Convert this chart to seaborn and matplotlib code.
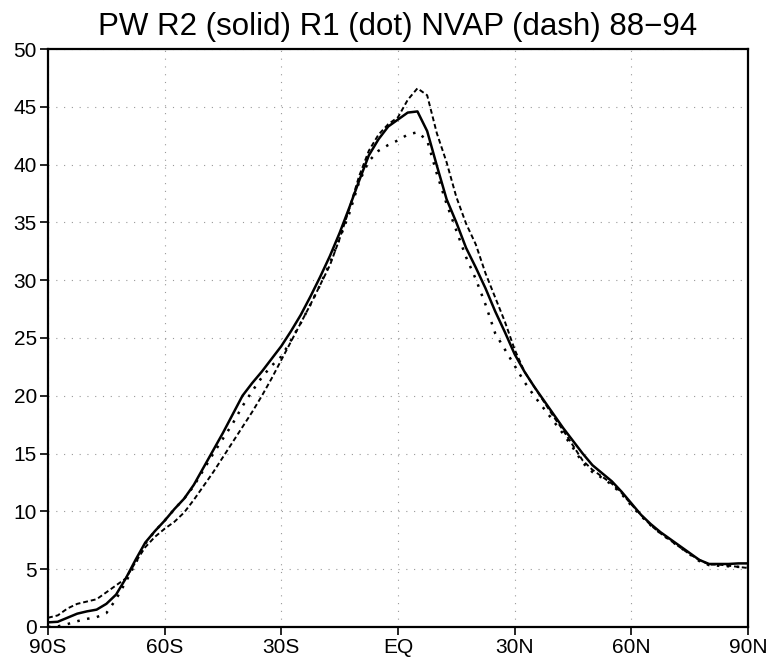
import numpy as np
import pandas as pd
import seaborn as sns
import matplotlib.pyplot as plt

lat = np.arange(-90, 90.1, 2.5)

# R2 (solid)
r2 = [0.4, 0.45, 0.8, 1.15, 1.35, 1.5, 2.0, 2.8, 4.2, 5.8,
      7.3, 8.3, 9.2, 10.2, 11.1, 12.3, 13.8, 15.3, 16.8, 18.4,
      20.0, 21.1, 22.1, 23.2, 24.3, 25.6, 27.0, 28.6, 30.3, 32.1,
      34.1, 36.3, 38.6, 40.8, 42.2, 43.3, 43.9, 44.5, 44.6, 42.9,
      39.9, 37.0, 35.0, 32.8, 31.1, 29.3, 27.3, 25.5, 23.6, 22.1,
      20.8, 19.6, 18.4, 17.2, 16.1, 15.0, 14.0, 13.3, 12.6, 11.7,
      10.7, 9.7, 8.9, 8.2, 7.6, 7.0, 6.4, 5.8, 5.45, 5.45,
      5.45, 5.5, 5.5]

# R1 (dot)
r1 = [0.0, 0.05, 0.25, 0.5, 0.7, 0.85, 1.2, 2.4, 3.9, 5.5,
      7.2, 8.3, 9.2, 10.2, 11.1, 12.2, 13.6, 15.0, 16.3, 17.6,
      19.1, 20.4, 21.6, 22.6, 23.4, 24.8, 26.3, 27.9, 29.6, 31.5,
      33.6, 35.8, 38.5, 40.3, 41.2, 41.7, 42.1, 42.6, 42.8, 42.1,
      39.2, 36.6, 34.3, 32.0, 30.1, 27.9, 25.4, 24.0, 22.6, 21.2,
      20.0, 18.9, 17.8, 16.7, 15.5, 14.2, 13.4, 12.9, 12.3, 11.5,
      10.5, 9.6, 8.8, 8.1, 7.5, 6.9, 6.3, 5.7, 5.35, 5.3,
      5.25, 5.2, 5.2]

# NVAP (dash)
nvap = [0.8, 1.0, 1.6, 2.0, 2.2, 2.4, 3.0, 3.6, 4.2, 5.6,
        6.9, 7.8, 8.5, 9.1, 9.9, 11.0, 12.2, 13.4, 14.7, 16.0,
        17.3, 18.6, 20.0, 21.5, 23.1, 24.7, 26.3, 27.9, 29.6, 31.3,
        33.6, 36.2, 39.0, 41.2, 42.6, 43.5, 44.1, 45.6, 46.6, 46.0,
        42.7, 40.2, 37.2, 34.9, 33.1, 30.6, 28.5, 26.4, 24.0, 22.1,
        20.8, 19.5, 18.2, 17.0, 15.7, 14.4, 13.6, 13.0, 12.4, 11.6,
        10.6, 9.7, 8.8, 8.1, 7.5, 6.9, 6.3, 5.8, 5.4, 5.4,
        5.3, 5.2, 5.1]

xticks = [-90, -60, -30, 0, 30, 60, 90]
xticklabels = ["90S", "60S", "30S", "EQ", "30N", "60N", "90N"]

df = pd.DataFrame({"lat": lat, "R2": r2, "R1": r1, "NVAP": nvap})

sns.set_style("white")
plt.rcParams["font.family"] = ["Liberation Sans", "DejaVu Sans"]
plt.rcParams["text.color"] = "black"

fig = plt.figure(figsize=(7.67, 6.57), dpi=100)
ax = fig.add_axes([0.0626, 0.0457, 0.9126, 0.8797])

sns.lineplot(data=df, x="lat", y="R2", ax=ax, color="black", lw=1.8, linestyle="-")
sns.lineplot(data=df, x="lat", y="R1", ax=ax, color="black", lw=1.8, linestyle=(0, (1, 3)))
sns.lineplot(data=df, x="lat", y="NVAP", ax=ax, color="black", lw=1.4, linestyle=(0, (2.5, 1.5)))

ax.set_xlim(-90, 90)
ax.set_ylim(0, 50)
ax.set_xticks(xticks)
ax.set_xticklabels(xticklabels)
ax.set_yticks(range(0, 51, 5))
ax.set_xlabel("")
ax.set_ylabel("")
ax.grid(True, linestyle=(0, (1, 6)), color="#999999", lw=0.8)
for s in ax.spines.values():
    s.set_linewidth(1.6)
    s.set_color("black")
ax.tick_params(direction="out", length=6, width=1.2, labelsize=15, pad=2,
               bottom=True, left=True, colors="black", labelcolor="black")

ax.set_title("PW R2 (solid) R1 (dot) NVAP (dash) 88\u221294", fontsize=22.5,
             pad=10, color="black")

plt.savefig("out.png", dpi=100)
